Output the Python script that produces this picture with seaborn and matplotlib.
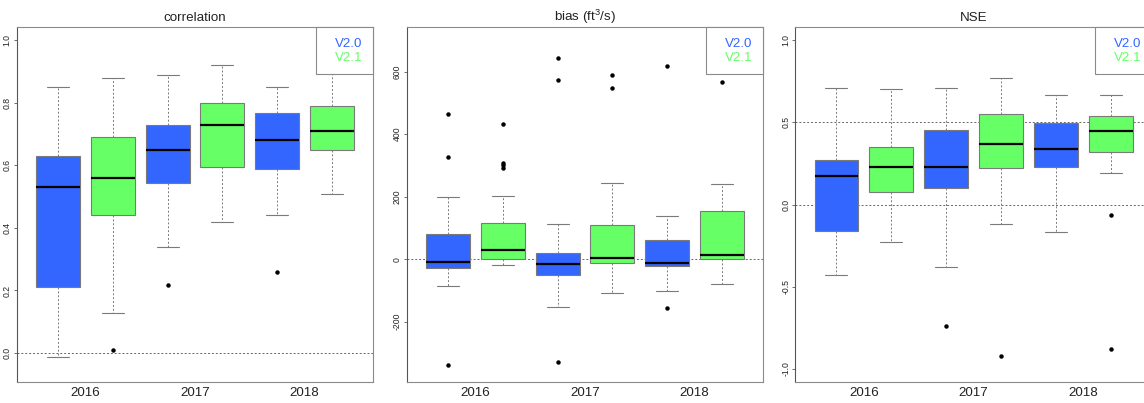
import numpy as np
import pandas as pd
import matplotlib
matplotlib.use("Agg")
import matplotlib.pyplot as plt
from matplotlib.patches import Patch
import seaborn as sns

# ---- data: five-number summaries per box, order = (2016 V2.0, 2016 V2.1, 2017 V2.0, 2017 V2.1, 2018 V2.0, 2018 V2.1)
years = ["2016", "2017", "2018"]
versions = ["V2.0", "V2.1"]
version_colors = ["#3366FF", "#66FF66"]

corr_lo = [-0.012, 0.128, 0.340, 0.420, 0.440, 0.510]
corr_q1 = [0.210, 0.440, 0.544, 0.595, 0.589, 0.649]
corr_med = [0.530, 0.559, 0.649, 0.729, 0.680, 0.710]
corr_q3 = [0.630, 0.691, 0.730, 0.799, 0.769, 0.789]
corr_hi = [0.851, 0.880, 0.890, 0.920, 0.850, 0.930]
corr_out = [[], [0.009], [0.219], [], [0.259], []]

bias_lo = [-86, -18, -152, -107, -103, -78]
bias_q1 = [-29, 2, -50, -13, -21, 0]
bias_med = [-7.5, 29, -15, 3, -11, 14]
bias_q3 = [80, 117, 20, 108, 63, 155]
bias_hi = [198, 201, 114, 244, 137, 241]
bias_out = [[464, 326, -337], [432, 308, 302, 292], [644, 574, -329],
            [588, 549], [617, -156], [567]]

nse_lo = [-0.432, -0.230, -0.381, -0.120, -0.169, 0.191]
nse_q1 = [-0.159, 0.079, 0.098, 0.224, 0.230, 0.320]
nse_med = [0.175, 0.230, 0.230, 0.371, 0.340, 0.450]
nse_q3 = [0.269, 0.350, 0.454, 0.550, 0.499, 0.540]
nse_hi = [0.709, 0.701, 0.709, 0.770, 0.670, 0.670]
nse_out = [[], [], [-0.741], [-0.923], [], [-0.061, -0.882]]

titles = ["correlation", "bias (ft$^{3}$/s)", "NSE"]
y_ranges = [(-0.05, 1.0), (-350, 700), (-1.0, 1.0)]
y_ticks = [[0.0, 0.2, 0.4, 0.6, 0.8, 1.0], [-200, 0, 200, 400, 600],
           [-1.0, -0.5, 0.0, 0.5, 1.0]]
y_ticklabels = [["0.0", "0.2", "0.4", "0.6", "0.8", "1.0"],
                ["-200", "0", "200", "400", "600"],
                ["-1.0", "-0.5", "0.0", "0.5", "1.0"]]
ref_lines = [[0.0], [0.0], [0.0, 0.5]]


def box_sample(lw, q1, med, q3, hw, out, k=5):
    """Sample of 4k+1 values whose quartiles, whiskers and fliers are exactly the given ones."""
    lo = sorted(v for v in out if v < q1)
    hi = sorted(v for v in out if v > q3)
    below = lo + [lw] * (k - len(lo))
    above = [hw] * (k - len(hi)) + hi
    return below + [q1] * k + [med] + [q3] * k + above


def build_frame(lo, q1, med, q3, hi, out):
    rows = []
    for i in range(len(lo)):
        year = years[i // 2]
        ver = versions[i % 2]
        for v in box_sample(lo[i], q1[i], med[i], q3[i], hi[i], out[i]):
            rows.append((year, ver, v))
    return pd.DataFrame(rows, columns=["year", "version", "value"])


frames = [
    build_frame(corr_lo, corr_q1, corr_med, corr_q3, corr_hi, corr_out),
    build_frame(bias_lo, bias_q1, bias_med, bias_q3, bias_hi, bias_out),
    build_frame(nse_lo, nse_q1, nse_med, nse_q3, nse_hi, nse_out),
]

sns.set_style("white")
plt.rcParams["font.family"] = ["Liberation Sans", "DejaVu Sans"]
plt.rcParams["mathtext.fontset"] = "custom"
plt.rcParams["mathtext.rm"] = "Liberation Sans"
plt.rcParams["mathtext.it"] = "Liberation Sans:italic"

W, H = 1144, 403
fig = plt.figure(figsize=(W / 100, H / 100), dpi=100)

# panel extents in pixels: (left, right); shared top/bottom
panel_px = [(16.7, 373.3), (406.7, 763.3), (795.3, 1151.9)]
top_px, bot_px = 27.3, 381.7

edge = "#7a7a7a"
for p, (df, (x0, x1)) in enumerate(zip(frames, panel_px)):
    ax = fig.add_axes([x0 / W, (H - bot_px) / H, (x1 - x0) / W, (bot_px - top_px) / H])
    for yv in ref_lines[p]:
        ax.axhline(yv, color="#666666", lw=0.7, ls=(0, (2, 2)), zorder=0)
    sns.boxplot(
        data=df, x="year", y="value", hue="version",
        order=years, hue_order=versions, palette=version_colors,
        width=1.0, gap=0.2, dodge=True, whis=1.5, saturation=1,
        linecolor=edge, linewidth=0.8,
        medianprops=dict(color="black", linewidth=1.6),
        whiskerprops=dict(color=edge, linewidth=0.7, linestyle=(0, (2, 2))),
        capprops=dict(color=edge, linewidth=0.8),
        flierprops=dict(marker="o", markersize=2.2, markerfacecolor="black",
                        markeredgecolor="black"),
        capwidths=0.2,
        legend=False, ax=ax, zorder=2,
    )
    lo, hi = y_ranges[p]
    pad = 0.04 * (hi - lo)
    ax.set_ylim(lo - pad, hi + pad)
    ax.set_xlim(-0.625, 2.625)
    ax.set_yticks(y_ticks[p])
    ax.set_yticklabels(y_ticklabels[p], rotation=90, va="center")
    ax.set_xlabel("")
    ax.set_ylabel("")
    ax.tick_params(axis="y", length=2, width=0.6, color="#555555",
                   labelsize=6.2, pad=1.5, left=True, labelcolor="#222222")
    ax.tick_params(axis="x", length=0, labelsize=9.6, pad=4, labelcolor="#222222")
    for name, sp in ax.spines.items():
        sp.set_visible(True)
        sp.set_color("#8a8a8a")
        sp.set_linewidth(0.8)
    ax.spines["left"].set_color("#555555")
    ax.set_title(titles[p], fontsize=9.6, pad=4.5, color="#222222")

    handles = [Patch(visible=False) for _ in versions]
    leg = ax.legend(handles, versions, loc="upper right", borderaxespad=0,
                    frameon=True, fancybox=False, framealpha=1, edgecolor="#8a8a8a",
                    fontsize=9.6, labelcolor=version_colors,
                    handlelength=0.65, handletextpad=0.0, borderpad=0.78,
                    labelspacing=0.1)
    leg.get_frame().set_linewidth(0.8)
    leg.set_zorder(5)

fig.savefig("out.png", dpi=100)
